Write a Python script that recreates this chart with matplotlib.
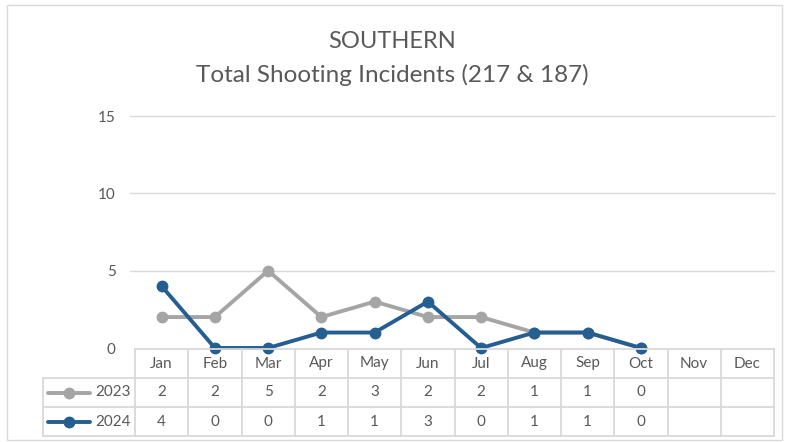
import matplotlib.pyplot as plt
from matplotlib.patches import Rectangle
from matplotlib.lines import Line2D

plt.rcParams['font.family'] = ['Lato', 'DejaVu Sans']

months = ['Jan', 'Feb', 'Mar', 'Apr', 'May', 'Jun', 'Jul', 'Aug', 'Sep', 'Oct', 'Nov', 'Dec']
vals_2023 = [2, 2, 5, 2, 3, 2, 2, 1, 1, 0]
vals_2024 = [4, 0, 0, 1, 1, 3, 0, 1, 1, 0]
series_names = ['2023', '2024']
colors = ['#A5A5A5', '#255E91']
yticks = [0, 5, 10, 15]

W, H = 785, 442
txt = '#595959'
grid = '#D9D9D9'

fig = plt.figure(figsize=(W / 100, H / 100), dpi=100)
fig.patches.append(Rectangle((7 / W, 2 / H), 775 / W, 435 / H, transform=fig.transFigure,
                             fill=False, edgecolor=grid, lw=1))

# main plot
x0, x1 = 135, 774
ax = fig.add_axes([x0 / W, 1 - 348 / H, (x1 - x0) / W, (348 - 116) / H])
ax.set_xlim(-0.5, 11.5)
ax.set_ylim(0, 15)
for s in ax.spines.values():
    s.set_visible(False)
ax.set_xticks([])
ax.set_yticks(yticks)
ax.set_yticklabels([str(t) for t in yticks], color=txt, fontsize=11)
ax.tick_params(axis='y', length=0, pad=14)
for t in yticks[1:]:
    ax.axhline(t, color=grid, lw=1, zorder=0, xmin=-0.008, clip_on=False)

for vals, c in zip([vals_2023, vals_2024], colors):
    ax.plot(range(len(vals)), vals, color=c, lw=2.8, marker='o', ms=7.5, clip_on=False, zorder=3)

fig.text(0.5, 1 - 42 / H, 'SOUTHERN', ha='center', va='center', fontsize=17, color=txt)
fig.text(0.5, 1 - 75 / H, 'Total Shooting Incidents (217 & 187)', ha='center', va='center',
         fontsize=17.5, color=txt)

# data table
tl, tr = 43, 774
cw = (x1 - x0) / 12
tax = fig.add_axes([tl / W, 1 - 436 / H, (tr - tl) / W, (436 - 349) / H])
tax.set_xlim(-0.5 - (x0 - tl) / cw, 11.5)
tax.set_ylim(3, 0)
tax.axis('off')
left = -0.5 - (x0 - tl) / cw
lk = dict(color=grid, lw=1.3, clip_on=False)
tax.plot([-0.5, 11.5], [0, 0], **lk)
for r in [1, 2, 3]:
    tax.plot([left, 11.5], [r, r], **lk)
tax.plot([left, left], [1, 3], **lk)
for i in range(13):
    tax.plot([i - 0.5, i - 0.5], [0, 3], **lk)
for i, m in enumerate(months):
    tax.text(i, 0.5, m, ha='center', va='center', fontsize=11, color=txt)
for r, (vals, name, c) in enumerate(zip([vals_2023, vals_2024], series_names, colors)):
    y = r + 1.5
    for i, v in enumerate(vals):
        tax.text(i, y, str(v), ha='center', va='center', fontsize=11, color=txt)
    tax.text(-0.58, y, name, ha='right', va='center', fontsize=11, color=txt)
    lx0 = left + 5 / cw
    lx1 = left + 47 / cw
    tax.add_line(Line2D([lx0, lx1], [y, y], color=c, lw=2.8, solid_capstyle='round', clip_on=False))
    tax.plot([(lx0 + lx1) / 2], [y], marker='o', ms=7.5, color=c, clip_on=False)

fig.savefig('out.png', dpi=100)
